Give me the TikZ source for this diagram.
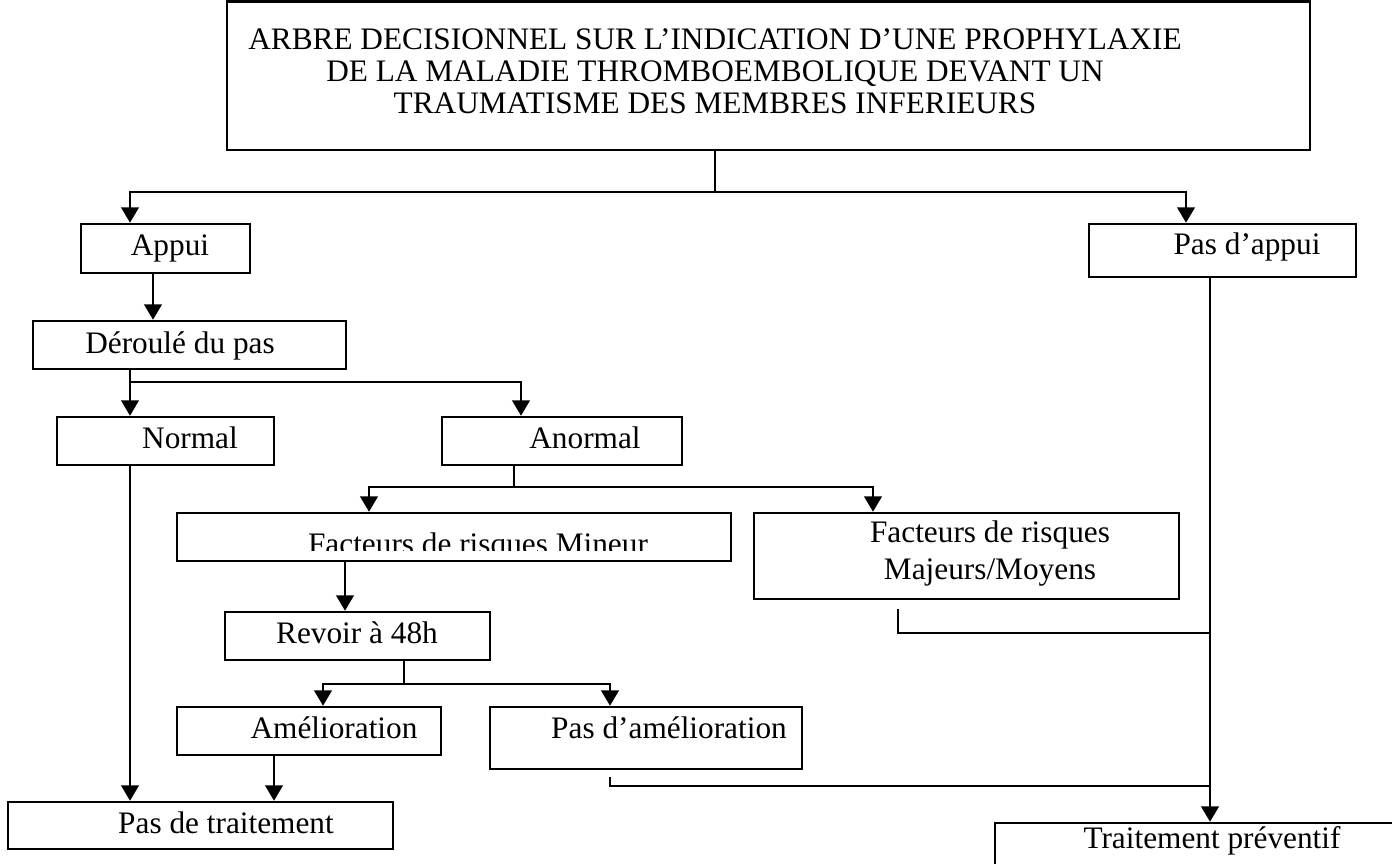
\documentclass[tikz,border=0pt]{standalone}
\usepackage{fontspec}
\setmainfont{Liberation Serif}
\usetikzlibrary{arrows.meta,fit}

\begin{document}
\begin{tikzpicture}[x=0.01cm, y=-0.01cm,
    box/.style={draw=black, line width=0.7pt, inner sep=0pt},
    txt/.style={anchor=base, inner sep=0pt, align=center, font=\fontsize{8.9}{10.3}\selectfont},
    line/.style={line width=0.7pt},
    arr/.style={line width=0.7pt, -{Triangle[width=5pt,length=4.4pt]}}]
    \useasboundingbox (0,0) rectangle (1392,863);
    \clip (0,0) rectangle (1392,863);
    \node[box, fit={(227,1.5) (1310,150)}] (title) {};
    \node[box, fit={(81,224) (250,273)}] (appui) {};
    \node[box, fit={(1089,224) (1356,277)}] (pasappui) {};
    \node[box, fit={(33,321) (346,369)}] (derou) {};
    \node[box, fit={(57,417) (274,465)}] (normal) {};
    \node[box, fit={(442,417) (682,465)}] (anormal) {};
    \node[box, fit={(177,513) (731,561)}] (mineur) {};
    \node[box, fit={(754,513) (1179,599)}] (majeur) {};
    \node[box, fit={(225,612) (490,660)}] (revoir) {};
    \node[box, fit={(177,707) (441,755)}] (amelio) {};
    \node[box, fit={(490,707) (802,769)}] (pasamelio) {};
    \node[box, fit={(8,802) (393,849)}] (pastrait) {};
    \node[box, fit={(995,823) (1425,885)}] (trait) {};
    \node[txt, font=\fontsize{8.9}{9.1}\selectfont] (title-t) at (715,113) {ARBRE DECISIONNEL SUR L’INDICATION D’UNE PROPHYLAXIE\\DE LA MALADIE THROMBOEMBOLIQUE DEVANT UN\\TRAUMATISME DES MEMBRES INFERIEURS};
    \node[txt] (appui-t) at (170,255) {Appui};
    \node[txt] (pasappui-t) at (1247,254) {Pas d’appui};
    \node[txt] (derou-t) at (180,353) {Déroulé du pas};
    \node[txt] (normal-t) at (190,448) {Normal};
    \node[txt] (anormal-t) at (585,448) {Anormal};
    \begin{scope}
        \clip (177,513) rectangle (731,550);
        \node[txt] (mineur-t) at (478,554) {Facteurs de risques Mineur};
    \end{scope}
    \node[txt] (majeur-t) at (990,579) {Facteurs de risques\\Majeurs/Moyens};
    \node[txt] (revoir-t) at (357,643) {Revoir à 48h};
    \node[txt] (amelio-t) at (334,738) {Amélioration};
    \node[txt] (pasamelio-t) at (669,738) {Pas d’amélioration};
    \node[txt] (pastrait-t) at (226,833) {Pas de traitement};
    \node[txt] (trait-t) at (1212,848) {Traitement préventif};
    \coordinate (j1) at (715,192);
    \draw[line] (title.south -| j1) -- (j1);
    \draw[arr] (j1) -| (appui.north -| 130,0);
    \draw[arr] (j1) -| (pasappui.north -| 1186,0);
    \draw[arr] (appui.south -| 153,0) -- (derou.north -| 153,0);
    \coordinate (j2) at (130,382);
    \draw[line] (derou.south -| j2) -- (j2);
    \draw[arr] (j2) -- (normal.north -| j2);
    \draw[arr] (j2) -| (anormal.north -| 521,0);
    \draw[arr] (normal.south -| j2) -- (pastrait.north -| j2);
    \coordinate (j3) at (514,487);
    \draw[line] (anormal.south -| j3) -- (j3);
    \draw[arr] (j3) -| (mineur.north -| 369,0);
    \draw[arr] (j3) -| (majeur.north -| 873,0);
    \draw[arr] (mineur.south -| 345,0) -- (revoir.north -| 345,0);
    \coordinate (j4) at (404,684);
    \draw[line] (revoir.south -| j4) -- (j4);
    \draw[arr] (j4) -| (amelio.north -| 323,0);
    \draw[arr] (j4) -| (pasamelio.north -| 610,0);
    \draw[arr] (amelio.south -| 274,0) -- (pastrait.north -| 274,0);
    \draw[arr] (pasappui.south -| trait.north) -- (trait.north);
    \coordinate (m1) at (898,609);
    \draw[line] (m1) |- (trait.north |- 0,633);
    \coordinate (m2) at (610,777);
    \draw[line] (m2) |- (trait.north |- 0,786);
\end{tikzpicture}
\end{document}
